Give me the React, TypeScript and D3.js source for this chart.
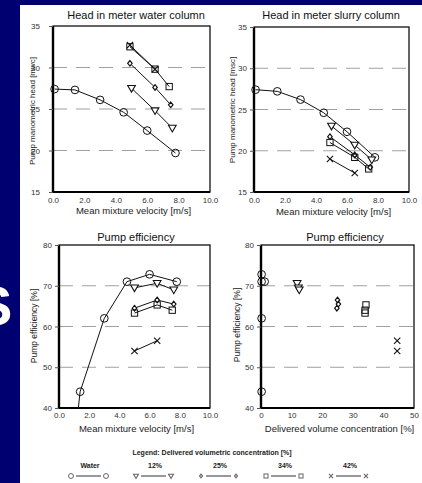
import React, { useEffect, useRef } from 'react';
import * as d3 from 'd3';

const FONT = 'Liberation Sans, Arial, sans-serif';
const W = 422;
const H = 483;

const seriesNames = ['Water', '12%', '25%', '34%', '42%'];
const markerKinds = ['circle', 'triangle', 'diamond', 'square', 'cross'];

const velocityTicks = [0, 2, 4, 6, 8, 10];
const headTicks = [15, 20, 25, 30, 35];
const effTicks = [40, 50, 60, 70, 80];
const concTicks = [0, 10, 20, 30, 40, 50];

// head in meter water column: [velocity m/s, head m]
const wcWater = [[0.1, 27.4], [1.4, 27.3], [3.0, 26.1], [4.5, 24.6], [6.0, 22.4], [7.8, 19.7]];
const wc12 = [[5.0, 27.5], [6.5, 24.8], [7.6, 22.7]];
const wc25 = [[4.9, 30.5], [6.5, 27.6], [7.5, 25.5]];
const wc34 = [[4.9, 32.5], [6.5, 29.8], [7.4, 27.7]];
const wc42 = [[4.9, 32.7], [6.5, 29.8]];

// head in meter slurry column
const scWater = [[0.1, 27.4], [1.5, 27.2], [3.0, 26.2], [4.5, 24.6], [6.0, 22.3], [7.8, 19.2]];
const sc12 = [[5.0, 23.0], [6.5, 20.7], [7.6, 18.9]];
const sc25 = [[4.9, 21.7], [6.5, 19.5], [7.5, 18.0]];
const sc34 = [[4.9, 21.0], [6.5, 19.2], [7.4, 17.8]];
const sc42 = [[4.9, 19.0], [6.5, 17.3]];

// pump efficiency vs velocity [velocity, %]
const effWater = [[0.1, 0], [1.4, 44], [3.0, 62], [4.5, 71], [6.0, 72.8], [7.8, 71]];
const eff12 = [[5.0, 69.5], [6.5, 70.6], [7.6, 69]];
const eff25 = [[5.0, 64.5], [6.5, 66.5], [7.6, 65.5]];
const eff34 = [[5.0, 63.3], [6.5, 65.3], [7.5, 64]];
const eff42 = [[5.0, 54], [6.5, 56.5]];

// pump efficiency vs delivered concentration [Cvd %, %]
const ecWater = [[0.2, 72.8], [0.2, 71], [1.2, 71], [0.2, 62], [0.2, 44]];
const ec12 = [[11.8, 70.6], [12.2, 69.5], [12.5, 69]];
const ec25 = [[25.0, 66.5], [25.3, 65.5], [24.8, 64.5]];
const ec34 = [[34.3, 65.3], [34.0, 64], [34.0, 63.3]];
const ec42 = [[44.5, 56.5], [44.5, 54]];

const panels = [
  {
    left: 53, right: 210, top: 26, bottom: 192,
    xDomain: [0, 10], yDomain: [15, 35], xTicks: velocityTicks, yTicks: headTicks, xFmt: '.1f',
    yPad: 9, xPad: 5,
    title: 'Head in meter water column', titleX: 136, titleY: 19,
    xTitle: 'Mean mixture velocity [m/s]', xTitleY: 214,
    yTitle: 'Pump manometric head [mwc]', yTitleX: 32, yTitleY: 111, yTitleSize: 8,
    series: [wcWater, wc12, wc25, wc34, wc42], lines: true,
  },
  {
    left: 254, right: 409, top: 27, bottom: 192,
    xDomain: [0, 10], yDomain: [15, 35], xTicks: velocityTicks, yTicks: headTicks, xFmt: '.1f',
    yPad: 3, xPad: 5,
    title: 'Head in meter slurry column', titleX: 331, titleY: 19,
    xTitle: 'Mean mixture velocity [m/s]', xTitleY: 215,
    yTitle: 'Pump manometric head [msc]', yTitleX: 232, yTitleY: 110, yTitleSize: 8,
    series: [scWater, sc12, sc25, sc34, sc42], lines: true,
  },
  {
    left: 59, right: 210, top: 245, bottom: 408,
    xDomain: [0, 10], yDomain: [40, 80], xTicks: velocityTicks, yTicks: effTicks, xFmt: '.1f',
    yPad: 3, xPad: 4,
    title: 'Pump efficiency', titleX: 136, titleY: 241,
    xTitle: 'Mean mixture velocity [m/s]', xTitleY: 432,
    yTitle: 'Pump efficiency [%]', yTitleX: 34, yTitleY: 326, yTitleSize: 8.5,
    series: [effWater, eff12, eff25, eff34, eff42], lines: true,
  },
  {
    left: 261, right: 414, top: 245, bottom: 408,
    xDomain: [0, 50], yDomain: [40, 80], xTicks: concTicks, yTicks: effTicks, xFmt: 'd',
    yPad: 3, xPad: 4,
    title: 'Pump efficiency', titleX: 345, titleY: 241,
    xTitle: 'Delivered volume concentration [%]', xTitleY: 432,
    yTitle: 'Pump efficiency [%]', yTitleX: 237, yTitleY: 325, yTitleSize: 8.5,
    series: [ecWater, ec12, ec25, ec34, ec42], lines: false,
  },
];

function drawMarker(g, kind, cx, cy, s, color) {
  if (kind === 'circle') {
    g.append('circle').attr('cx', cx).attr('cy', cy).attr('r', s * 0.55)
      .attr('fill', 'none').attr('stroke', color).attr('stroke-width', 1);
  } else if (kind === 'triangle') {
    g.append('path')
      .attr('d', `M${cx - s * 0.55},${cy - s * 0.4}L${cx + s * 0.55},${cy - s * 0.4}L${cx},${cy + s * 0.55}Z`)
      .attr('fill', '#fff').attr('stroke', color).attr('stroke-width', 1.1);
  } else if (kind === 'diamond') {
    g.append('path')
      .attr('d', `M${cx},${cy - s * 0.4}L${cx + s * 0.32},${cy}L${cx},${cy + s * 0.4}L${cx - s * 0.32},${cy}Z`)
      .attr('fill', '#fff').attr('stroke', color).attr('stroke-width', 1.2);
  } else if (kind === 'square') {
    g.append('rect').attr('x', cx - s * 0.45).attr('y', cy - s * 0.45)
      .attr('width', s * 0.9).attr('height', s * 0.9)
      .attr('fill', 'none').attr('stroke', color).attr('stroke-width', 1);
  } else {
    const h = s * 0.45;
    g.append('path')
      .attr('d', `M${cx - h},${cy - h}L${cx + h},${cy + h}M${cx - h},${cy + h}L${cx + h},${cy - h}`)
      .attr('stroke', color).attr('stroke-width', 1.1);
  }
}

function drawPanel(svg, p, idx) {
  const x = d3.scaleLinear().domain(p.xDomain).range([p.left, p.right]);
  const y = d3.scaleLinear().domain(p.yDomain).range([p.bottom, p.top]);
  const g = svg.append('g');

  const clipId = 'plotclip' + idx;
  svg.append('clipPath').attr('id', clipId).append('rect')
    .attr('x', p.left).attr('y', p.top)
    .attr('width', p.right - p.left).attr('height', p.bottom - p.top);

  // faint reference lines
  g.selectAll('line.grid').data(p.yTicks.slice(1, -1)).join('line')
    .attr('class', 'grid')
    .attr('x1', p.left).attr('x2', p.right)
    .attr('y1', (d) => y(d)).attr('y2', (d) => y(d))
    .attr('stroke', '#a0a0a0').attr('stroke-width', 1)
    .attr('stroke-dasharray', '14,9');

  // frame
  g.append('rect').attr('x', p.left).attr('y', p.top)
    .attr('width', p.right - p.left).attr('height', p.bottom - p.top)
    .attr('fill', 'none').attr('stroke', '#111').attr('stroke-width', 1.3);
  g.append('line').attr('x1', p.left).attr('x2', p.left).attr('y1', p.top).attr('y2', p.bottom + 1)
    .attr('stroke', '#000').attr('stroke-width', 2.4);
  g.append('line').attr('x1', p.left).attr('x2', p.right).attr('y1', p.bottom).attr('y2', p.bottom)
    .attr('stroke', '#000').attr('stroke-width', 2);

  // axes
  const ya = g.append('g').attr('transform', `translate(${p.left},0)`)
    .call(d3.axisLeft(y).tickValues(p.yTicks).tickSize(4).tickPadding(p.yPad).tickFormat(d3.format('d')));
  const xa = g.append('g').attr('transform', `translate(0,${p.bottom})`)
    .call(d3.axisBottom(x).tickValues(p.xTicks).tickSize(0).tickPadding(p.xPad).tickFormat(d3.format(p.xFmt)));
  [ya, xa].forEach((a) => {
    a.select('.domain').remove();
    a.selectAll('line').attr('stroke', '#555');
    a.selectAll('text').attr('font-family', FONT).attr('font-size', 8).attr('fill', '#333');
  });

  // titles
  g.append('text').attr('x', p.titleX).attr('y', p.titleY).attr('text-anchor', 'middle')
    .attr('font-family', FONT).attr('font-size', 11).attr('fill', '#111').text(p.title);
  g.append('text').attr('x', (p.left + p.right) / 2 + 2).attr('y', p.xTitleY).attr('text-anchor', 'middle')
    .attr('font-family', FONT).attr('font-size', 9.5).attr('fill', '#222').text(p.xTitle);
  g.append('text').attr('transform', `translate(${p.yTitleX},${p.yTitleY}) rotate(-90)`)
    .attr('text-anchor', 'middle').attr('dy', '0.35em')
    .attr('font-family', FONT).attr('font-size', p.yTitleSize).attr('fill', '#222').text(p.yTitle);

  // series
  const line = d3.line().x((d) => x(d[0])).y((d) => y(d[1]));
  p.series.forEach((data, i) => {
    if (p.lines) {
      g.append('path').attr('d', line(data)).attr('clip-path', `url(#${clipId})`)
        .attr('fill', 'none').attr('stroke', '#111').attr('stroke-width', 1);
    }
    const mg = g.append('g');
    data
      .filter((d) => d[1] >= p.yDomain[0] && d[1] <= p.yDomain[1])
      .forEach((d) => drawMarker(mg, markerKinds[i], x(d[0]), y(d[1]), 7, '#111'));
  });
}

function drawLegend(svg) {
  const g = svg.append('g');
  const lx = d3.scalePoint().domain(seriesNames).range([90, 350]);
  g.append('text').attr('x', 212).attr('y', 455).attr('text-anchor', 'middle')
    .attr('font-family', FONT).attr('font-size', 7).attr('font-weight', 'bold').attr('fill', '#222')
    .text('Legend: Delivered volumetric concentration [%]');
  seriesNames.forEach((name, i) => {
    const cx = lx(name);
    g.append('text').attr('x', cx).attr('y', 468).attr('text-anchor', 'middle')
      .attr('font-family', FONT).attr('font-size', 7).attr('font-weight', 'bold').attr('fill', '#222')
      .text(name);
    g.append('line').attr('x1', cx - 14).attr('x2', cx + 11).attr('y1', 476).attr('y2', 476)
      .attr('stroke', '#333').attr('stroke-width', 1);
    drawMarker(g, markerKinds[i], cx - 19, 476, 4.5, '#666');
    drawMarker(g, markerKinds[i], cx + 16, 476, 4.5, '#666');
  });
}

function Chart() {
  const svgRef = useRef(null);

  useEffect(() => {
    const svg = d3.select(svgRef.current);
    svg.selectAll('*').remove();

    svg.append('rect').attr('width', W).attr('height', H).attr('fill', '#000070');
    svg.append('rect').attr('x', 20).attr('y', 5).attr('width', W - 20).attr('height', H - 5).attr('fill', '#fff');
    // cut-off slide lettering on the left strip (cropped in the source too)
    svg.append('text').attr('x', -25).attr('y', 325).attr('font-family', FONT)
      .attr('font-size', 56).attr('font-weight', 'bold').attr('fill', '#fff').text('S');

    panels.forEach((p, i) => drawPanel(svg, p, i));
    drawLegend(svg);
  }, []);

  return (
    <svg ref={svgRef} width={W} height={H} xmlns="http://www.w3.org/2000/svg"
      style={{ position: 'absolute', left: 0, top: 0 }} />
  );
}

export default function App() {
  return <Chart />;
}
